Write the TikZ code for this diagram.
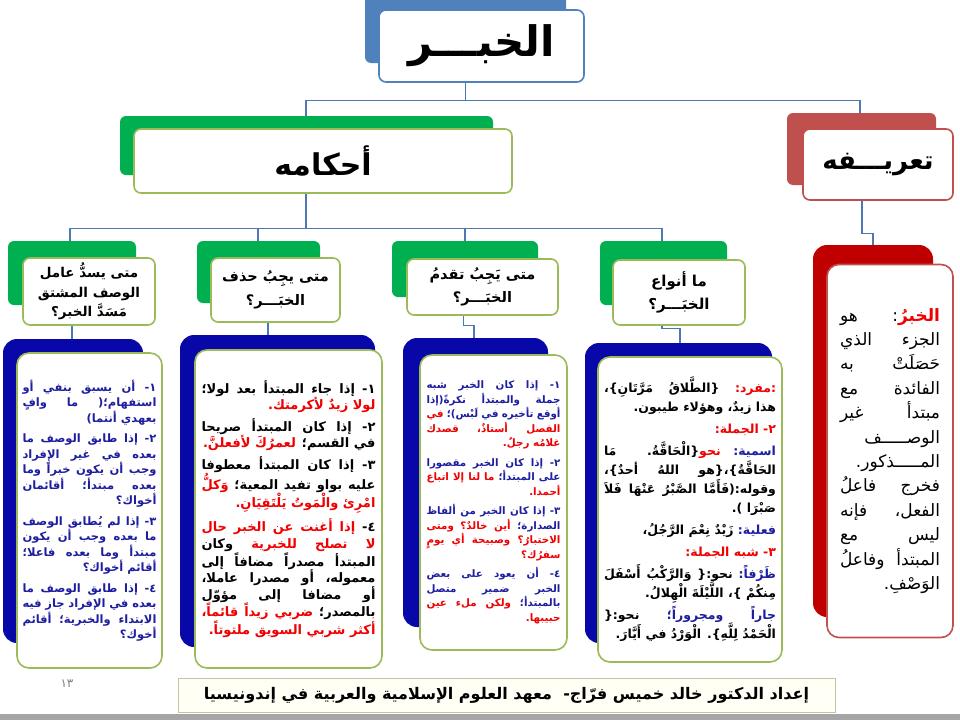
\documentclass[tikz,border=0pt]{standalone}
\usepackage{fontspec}
\usepackage{tikz}
\usetikzlibrary{backgrounds}
\newfontfamily\arabicfont[Script=Arabic]{DejaVu Sans}
\TeXXeTstate=1
\definecolor{topblue}{RGB}{79,129,189}
\definecolor{linkblue}{RGB}{79,119,180}
\definecolor{leafgreen}{RGB}{0,176,80}
\definecolor{boxolive}{RGB}{155,187,89}
\definecolor{panelblue}{RGB}{8,8,168}
\definecolor{darkred}{RGB}{192,0,0}
\definecolor{rosered}{RGB}{192,80,77}
\definecolor{bluetxt}{RGB}{30,30,160}
\definecolor{redtxt}{RGB}{240,0,0}
\definecolor{footline}{RGB}{196,196,160}
\definecolor{footfill}{RGB}{255,255,246}
\newdimen\linewd
\newcommand{\ar}[1]{\beginR #1\endR}
\newcommand{\arred}[1]{{\color{redtxt}\ar{#1}}}
\newcommand{\arblue}[1]{{\color{bluetxt}\ar{#1}}}
\newcommand{\jl}[1]{\hbox to \linewd{#1}}
\tikzset{
  linkline/.style={linkblue, line width=1.3},
  whitebox/.style={draw=boxolive, line width=1.6, fill=white, rounded corners=7, inner sep=0, align=center, font=\arabicfont\bfseries},
  panel/.style={whitebox, rounded corners=12, align=right},
}
\begin{document}
\begin{tikzpicture}[x=1pt,y=-1pt]
\useasboundingbox (0,0) rectangle (960,720);
\fill[topblue, rounded corners=6] (365,-10) rectangle (566,63);
\fill[leafgreen, rounded corners=6] (120,116) rectangle (493,175);
\fill[rosered, rounded corners=6] (787,113) rectangle (936,185);
\foreach \xa/\xb/\yb in {8/136/305, 197/320/303, 392/538/297, 600/727/305}
  \fill[leafgreen, rounded corners=6] (\xa,241) rectangle (\xb,\yb);
\foreach \xa/\ya/\xb/\yb in {3/339/143/643, 180/335/375/647, 403/338/548/627, 585/343/772/643}
  \fill[panelblue, rounded corners=14] (\xa,\ya) rectangle (\xb,\yb);
\fill[darkred, rounded corners=14] (813,245) rectangle (933,617);

\node[whitebox, draw=topblue, minimum width=205, minimum height=72, font={\arabicfont\bfseries\fontsize{42}{42}\selectfont}] (khabar) at (481.5,46) {\ar{الخبـــر}};
\node[whitebox, minimum width=378, minimum height=64, font={\arabicfont\bfseries\fontsize{30}{30}\selectfont}] (ahkam) at (323,161) {\ar{أحكامه}};
\node[whitebox, draw=rosered, minimum width=150, minimum height=71, font={\arabicfont\bfseries\fontsize{26}{26}\selectfont}] (taarif) at (878,164.5) {\ar{تعريـــفه}};

\node[whitebox, minimum width=132, minimum height=67, font={\arabicfont\bfseries\fontsize{13.5}{19.5}\selectfont}] (q1) at (89,291.5) {\ar{متى يسدُّ عامل}\\\ar{الوصف المشتق}\\\ar{مَسَدَّ الخبر؟}};
\node[whitebox, minimum width=129, minimum height=64, font={\arabicfont\bfseries\fontsize{14.5}{24}\selectfont}] (q2) at (275.5,290) {\ar{متى يجِبُ حذف}\\\ar{الخبَـــر؟}};
\node[whitebox, minimum width=151, minimum height=56, font={\arabicfont\bfseries\fontsize{14.5}{23.5}\selectfont}] (q3) at (482.5,287) {\ar{متى يَجِبُ تقدمُ}\\\ar{الخبَـــر؟}};
\node[whitebox, minimum width=132, minimum height=65, font={\arabicfont\bfseries\fontsize{15}{23}\selectfont}] (q4) at (679,292.5) {\ar{ما أنواع}\\\ar{الخبَـــر؟}};

\node[panel, minimum width=145, minimum height=315, text=bluetxt, font={\arabicfont\bfseries\fontsize{11.5}{15.5}\selectfont\linewd=134pt}] (p1) at (89.5,510.5) {%
\jl{\ar{١- أن يسبق بنفي أو}}\\
\jl{\ar{استفهام؛( ما وافٍ}}\\
\ar{بعهدي أنتما)}\\[5pt]
\jl{\ar{٢- إذا طابق الوصف ما}}\\
\jl{\ar{بعده في غير الإفراد}}\\
\jl{\ar{وجب أن يكون خبراً وما}}\\
\jl{\ar{بعده مبتدأ؛ أقائمان}}\\
\ar{أخواك؟}\\[5pt]
\jl{\ar{٣- إذا لم يُطابق الوصف}}\\
\jl{\ar{ما بعده وجب أن يكون}}\\
\jl{\ar{مبتدأ وما بعده فاعلا؛}}\\
\ar{أقائم أخواك؟}\\[5pt]
\jl{\ar{٤- إذا طابق الوصف ما}}\\
\jl{\ar{بعده في الإفراد جاز فيه}}\\
\jl{\ar{الابتداء والخبرية؛ أقائم}}\\
\ar{أخوك؟}};

\node[panel, minimum width=187, minimum height=318, font={\arabicfont\bfseries\fontsize{13}{16.5}\selectfont\linewd=174pt}] (p2) at (288.5,509) {%
\jl{\ar{١- إذا جاء المبتدأ بعد لولا؛}}\\
\arred{لولا زيدٌ لأكرمتك.}\\[5pt]
\jl{\ar{٢- إذا كان المبتدأ صريحا}}\\
\arred{لعمرُكَ لأفعلنَّ.} \ar{في القسم؛}\\[5pt]
\jl{\ar{٣- إذا كان المبتدأ معطوفا}}\\
\jl{\arred{وَكلُّ} \ar{عليه بواو تفيد المعية؛}}\\
\arred{امْرِئ والْمَوتُ يَلْتَقِيَانِ.}\\[5pt]
\jl{\arred{إذا أغنت عن الخبر حال} \ar{٤-}}\\
\jl{\ar{وكان} \arred{لا تصلح للخبرية}}\\
\jl{\ar{المبتدأ مصدراً مضافاً إلى}}\\
\jl{\ar{معموله، أو مصدرا عاملا،}}\\
\jl{\ar{أو مضافا إلى مؤوّل}}\\
\jl{\arred{ضربي زيداً قائماً،} \ar{بالمصدر؛}}\\
\arred{أكثر شربي السويق ملتوتاً.}};

\node[panel, minimum width=147, minimum height=295, text=bluetxt, font={\arabicfont\bfseries\fontsize{10.3}{14.5}\selectfont\linewd=134pt}] (p3) at (493.5,502.5) {%
\jl{\ar{١- إذا كان الخبر شبه}}\\
\jl{\ar{جملة والمبتدأ نكرةً(إذا}}\\
\jl{\arred{في} \ar{أوقع تأخيره في لَبْس)؛}}\\
\jl{\arred{الفصل أستاذٌ، قصدك}}\\
\arred{غلامُه رجلٌ.}\\[5pt]
\jl{\ar{٢- إذا كان الخبر مقصورا}}\\
\jl{\arred{ما لنا إلا اتباع} \ar{على المبتدأ؛}}\\
\arred{أحمدا.}\\[5pt]
\jl{\ar{٣- إذا كان الخبر من ألفاظ}}\\
\jl{\arred{أين خالدٌ؟ ومتى} \ar{الصدارة؛}}\\
\jl{\arred{الاختبارُ؟ وصبيحة أي يومٍ}}\\
\arred{سفرُك؟}\\[5pt]
\jl{\ar{٤- أن يعود على بعض}}\\
\jl{\ar{الخبر ضمير متصل}}\\
\jl{\arred{ولكن ملء عين} \ar{بالمبتدأ؛}}\\
\arred{حبيبها.}};

\node[panel, minimum width=184, minimum height=305, font={\arabicfont\bfseries\fontsize{12.5}{19}\selectfont\linewd=172pt}] (p4) at (690,509.5) {%
\jl{\ar{\{الطَّلاقُ مَرَّتَانِ\}،} \arred{:مفرد:}}\\
\ar{هذا زيدٌ، وهؤلاء طيبون.}\\[3pt]
\arred{٢- الجملة:}\\[3pt]
\jl{\ar{\{الْحَاقَّةُ. مَا}\arred{نحو} \arblue{اسمية:}}\\
\jl{\ar{الحَاقَّةُ\}،\{هو اللهُ أحدٌ\}،}}\\
\jl{\ar{وقوله:(فَأَمَّا الصَّبْرُ عَنْهَا فَلاَ}}\\
\ar{صَبْرَا ).}\\[3pt]
\ar{زَيْدٌ نِعْمَ الرَّجُلُ،} \arblue{فعلية:}\\[3pt]
\arred{٣- شبه الجملة:}\\[3pt]
\jl{\ar{نحو:\{ وَالرَّكْبُ أَسْفَلَ} \arblue{ظَرْفاً:}}\\
\ar{مِنكُمْ \}، اللَّيْلَةَ الْهِلالُ.}\\[3pt]
\jl{\ar{نحو:\{} \arblue{جاراً ومجروراً؛}}\\
\ar{الْحَمْدُ لِلَّهِ\}. الْوَرْدُ في أَيَّارَ.}};

\node[panel, draw=rosered, minimum width=126, minimum height=373, font={\arabicfont\fontsize{17}{24.4}\selectfont\linewd=100pt}] (def) at (890,451) {%
\jl{\ar{: هو}{\bfseries\arred{الخبرُ}}}\\
\jl{\ar{الجزء الذي}}\\
\jl{\ar{حَصَلَتْ به}}\\
\jl{\ar{الفائدة مع}}\\
\jl{\ar{مبتدأ غير}}\\
\ar{الوصـــــف}\\
\ar{المـــــذكور.}\\
\jl{\ar{فخرج فاعلُ}}\\
\jl{\ar{الفعل، فإنه}}\\
\jl{\ar{ليس مع}}\\
\jl{\ar{المبتدأ وفاعلُ}}\\
\ar{الوَصْفِ.}};

\node[draw=footline, fill=footfill, line width=1, minimum width=657, minimum height=34, inner sep=0, font={\arabicfont\bfseries\fontsize{16}{18}\selectfont}] (footer) at (506.5,695) {\ar{إعداد الدكتور خالد خميس فرّاج-\ \ معهد العلوم الإسلامية والعربية في إندونيسيا}};
\node[text=gray, font={\arabicfont\fontsize{12}{14}\selectfont}] (pagenum) at (67,684) {\ar{١٣}};
\fill[gray!70] (0,714) rectangle (960,720);

\begin{scope}[on background layer]
\fill[white] (0,0) rectangle (960,720);
\draw[linkline] ([xshift=-16]khabar.south) -- ++(0,18) coordinate (hub);
\draw[linkline] ([xshift=-17]ahkam.north) |- (hub) -| ([xshift=-18]taarif.north);
\draw[linkline] ([xshift=-17]ahkam.south) -- ++(0,35) coordinate (fork);
\foreach \q/\s in {q1/-19, q2/-17.5, q3/-17.5, q4/-17}
  \draw[linkline] (fork) -| ([xshift=\s]\q.north);
\draw[linkline] ([xshift=-17]q1.south) -- ++(0,30);
\draw[linkline] ([xshift=-7.5]q2.south) -- ++(0,30);
\draw[linkline] ([xshift=-19]q3.south) -- ++(0,10) -| ([xshift=-19.5]p3.north);
\draw[linkline] ([xshift=-17]q4.south) -- ++(0,3) -| ([xshift=-10]p4.north);
\draw[linkline] ([xshift=-16]taarif.south) -- ++(0,33) -| ([xshift=-17]def.north);
\end{scope}
\end{tikzpicture}
\end{document}
